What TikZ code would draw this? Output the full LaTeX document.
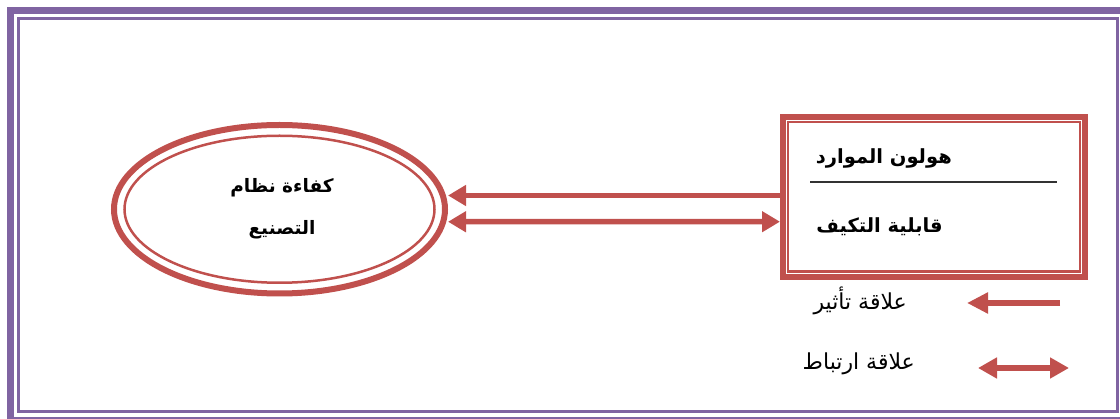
\documentclass[tikz,border=0pt]{standalone}
\usepackage{fontspec}
\usetikzlibrary{arrows.meta,shapes.geometric}
\TeXXeTstate=1
\newfontfamily\arabicfont[Script=Arabic]{DejaVu Sans}
\definecolor{framepurple}{RGB}{128,100,162}
\definecolor{boxred}{RGB}{192,80,77}
\definecolor{divgray}{RGB}{50,50,50}
\tikzset{
  redthick/.style={draw=boxred,line width=6pt},
  redthin/.style={draw=boxred,line width=2.5pt},
  conn/.style={draw=boxred,line width=5.5pt},
  headL/.style={-{Triangle[length=18pt,width=20pt]}},
  headLR/.style={{Triangle[length=18pt,width=20pt]}-{Triangle[length=18pt,width=20pt]}},
  boldlabel/.style={font=\arabicfont\bfseries\fontsize{19.5}{24}\selectfont,inner sep=0pt},
  elllabel/.style={font=\arabicfont\bfseries\fontsize{18.5}{24}\selectfont,inner sep=0pt},
  leglabel/.style={font=\arabicfont\fontsize{22}{26}\selectfont,inner sep=0pt},
}
\begin{document}
\begin{tikzpicture}[x=1pt,y=-1pt]
\useasboundingbox (0,0) rectangle (1120,419);
\clip (0,0) rectangle (1120,419);
% frame
\draw[framepurple,line width=7pt] (10.5,10.5) rectangle (1126,421);
\draw[framepurple,line width=3pt] (18.5,18.5) rectangle (1117.5,412);
% ellipse
\node[ellipse,redthick,minimum width=331pt,minimum height=168.5pt] (ell) at (279.5,209.25) {};
\draw[redthin] (ell.center) ellipse[x radius=155pt,y radius=73.5pt];
\node[elllabel] (t1) at (282,188) {\beginR كفاءة نظام\endR};
\node[elllabel] (t2) at (282,230) {\beginR التصنيع\endR};
% rectangle
\node[rectangle,redthick,minimum width=302pt,minimum height=159.7pt] (rect) at (934,196.85) {};
\draw[redthin] ([xshift=8pt,yshift=-8pt]rect.north west) rectangle ([xshift=-8pt,yshift=8pt]rect.south east);
\node[boldlabel,anchor=east] (r1) at (952,158) {\beginR هولون الموارد\endR};
\node[boldlabel,anchor=east] (r2) at (943,227) {\beginR قابلية التكيف\endR};
\coordinate (dl) at (810,182);
\coordinate (dr) at (1057,182);
\draw[divgray,line width=1.5pt] (dl) -- (dr);
% connectors
\draw[conn,headL] ([yshift=1.35pt]rect.west) -- ([yshift=13.75pt]ell.east);
\draw[conn,headLR] ([yshift=-12.5pt]ell.east) -- ([yshift=-24.85pt]rect.west);
% legend
\coordinate (la1) at (1060,303);
\coordinate (la2) at (967,303);
\draw[draw=boxred,line width=6.5pt,-{Triangle[length=21pt,width=20pt]}] (la1) -- (la2);
\node[leglabel,anchor=east] (l1) at (907,301) {\beginR علاقة تأثير\endR};
\coordinate (lb1) at (978,368);
\coordinate (lb2) at (1069,368);
\draw[draw=boxred,line width=6pt,{Triangle[length=19pt,width=20pt]}-{Triangle[length=19pt,width=20pt]}] (lb1) -- (lb2);
\node[leglabel,anchor=east] (l2) at (915,364) {\beginR علاقة ارتباط\endR};
\end{tikzpicture}
\end{document}
